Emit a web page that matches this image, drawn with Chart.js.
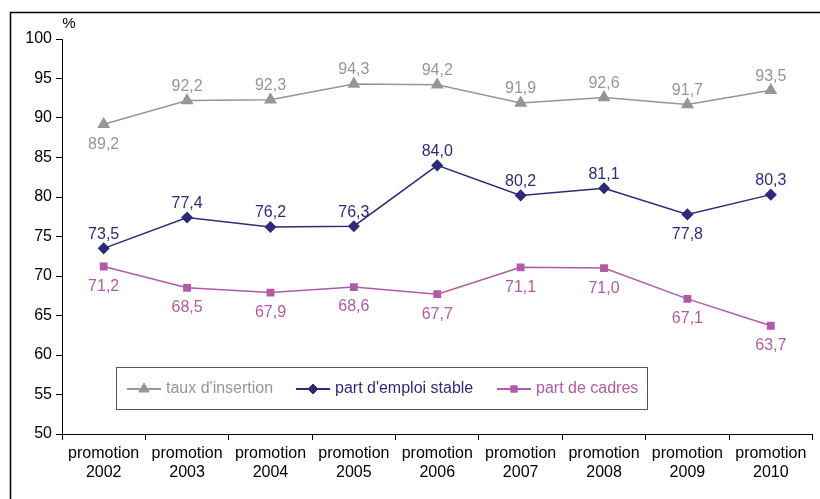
<!DOCTYPE html>
<html>
<head>
<meta charset="utf-8">
<script src="https://cdn.jsdelivr.net/npm/chart.js@4"></script>
<style>
  html, body { margin: 0; padding: 0; background: #fff; }
  #wrap { width: 820px; height: 499px; }
</style>
</head>
<body>
<div id="wrap"><canvas id="graph" width="820" height="499"></canvas></div>
<script>
const promotions = ["2002", "2003", "2004", "2005", "2006", "2007", "2008", "2009", "2010"];
const tauxInsertion = [89.2, 92.2, 92.3, 94.3, 94.2, 91.9, 92.6, 91.7, 93.5];
const emploiStable = [73.5, 77.4, 76.2, 76.3, 84.0, 80.2, 81.1, 77.8, 80.3];
const partCadres = [71.2, 68.5, 67.9, 68.6, 67.7, 71.1, 71.0, 67.1, 63.7];
// position des étiquettes : 1 = au-dessus, -1 = en dessous
const posInsertion = [-1, 1, 1, 1, 1, 1, 1, 1, 1];
const posEmploi = [1, 1, 1, 1, 1, 1, 1, -1, 1];
const posCadres = [-1, -1, -1, -1, -1, -1, -1, -1, -1];

const gris = "#969696";
const bleu = "#2e2a7a";
const rose = "#b25aa8";
const police = "'Liberation Sans', Arial, sans-serif";

const etiquettes = {
    id: "etiquettes",
    afterDatasetsDraw(chart) {
        const ctx = chart.ctx;
        ctx.save();
        ctx.font = "16px " + police;
        ctx.textAlign = "center";
        ctx.textBaseline = "middle";
        chart.data.datasets.forEach((ds, i) => {
            const meta = chart.getDatasetMeta(i);
            ctx.fillStyle = ds.couleurTexte;
            meta.data.forEach((pt, j) => {
                const txt = ds.data[j].toFixed(1).replace(".", ",");
                const dy = ds.positions[j] > 0 ? -14 : 20;
                ctx.fillText(txt, pt.x, pt.y + dy);
            });
        });
        ctx.restore();
    }
};

const cadre = {
    id: "cadre",
    afterDraw(chart) {
        const ctx = chart.ctx;
        ctx.save();
        // cadre extérieur
        ctx.strokeStyle = "#000";
        ctx.lineWidth = 1.5;
        ctx.strokeRect(10.5, 12.5, 830, 520);
        // unité
        ctx.fillStyle = "#000";
        ctx.font = "15px " + police;
        ctx.textAlign = "center";
        ctx.textBaseline = "middle";
        ctx.fillText("%", 69, 24);
        // légende
        const bx = 116, by = 367, bw = 531, bh = 42;
        ctx.fillStyle = "#fff";
        ctx.fillRect(bx, by, bw, bh);
        ctx.lineWidth = 1;
        ctx.strokeStyle = "#555";
        ctx.strokeRect(bx + 0.5, by + 0.5, bw, bh);
        const items = [
            { x: 127, ds: 0 },
            { x: 296, ds: 1 },
            { x: 497, ds: 2 }
        ];
        const yl = by + bh / 2 + 1;
        items.forEach(it => {
            const ds = chart.data.datasets[it.ds];
            ctx.strokeStyle = ds.borderColor;
            ctx.fillStyle = ds.borderColor;
            ctx.lineWidth = 2;
            ctx.beginPath();
            ctx.moveTo(it.x, yl);
            ctx.lineTo(it.x + 34, yl);
            ctx.stroke();
            ctx.lineWidth = 1;
            Chart.helpers.drawPoint(ctx, {
                pointStyle: ds.pointStyle,
                radius: ds.pointRadius,
                borderWidth: 1
            }, it.x + 17, yl);
            ctx.fillStyle = ds.couleurTexte;
            ctx.font = "16px " + police;
            ctx.textAlign = "left";
            ctx.fillText(ds.label, it.x + 39, yl);
        });
        ctx.restore();
    }
};

function serie(label, data, couleur, style, rayon, positions) {
    return {
        label: label,
        data: data,
        borderColor: couleur,
        backgroundColor: couleur,
        pointBackgroundColor: couleur,
        pointBorderColor: couleur,
        pointStyle: style,
        pointRadius: rayon,
        borderWidth: 1.5,
        tension: 0,
        couleurTexte: couleur,
        positions: positions
    };
}

new Chart(document.getElementById("graph"), {
    type: "line",
    data: {
        labels: promotions.map(a => ["promotion", a]),
        datasets: [
            serie("taux d'insertion", tauxInsertion, gris, "triangle", 6, posInsertion),
            serie("part d'emploi stable", emploiStable, bleu, "rectRot", 5, posEmploi),
            serie("part de cadres", partCadres, rose, "rect", 4.5, posCadres)
        ]
    },
    options: {
        responsive: false,
        animation: false,
        layout: { padding: { left: 0, top: 39, right: 6, bottom: 0 } },
        plugins: {
            legend: { display: false },
            tooltip: { enabled: false }
        },
        scales: {
            x: {
                offset: true,
                grid: { offset: true, drawOnChartArea: false, drawTicks: true, tickLength: 6, color: "#000" },
                border: { color: "#000", width: 1 },
                ticks: {
                    color: "#000",
                    font: { size: 16, family: police },
                    padding: 4,
                    maxRotation: 0
                },
                afterFit(s) { s.height = 65; }
            },
            y: {
                min: 50,
                max: 100,
                grid: { drawOnChartArea: false, drawTicks: true, tickLength: 6, color: "#000" },
                border: { color: "#000", width: 1 },
                ticks: {
                    stepSize: 5,
                    color: "#000",
                    font: { size: 16, family: police },
                    padding: 4
                },
                afterFit(s) { s.width = 62; }
            }
        }
    },
    plugins: [etiquettes, cadre]
});
</script>
</body>
</html>
